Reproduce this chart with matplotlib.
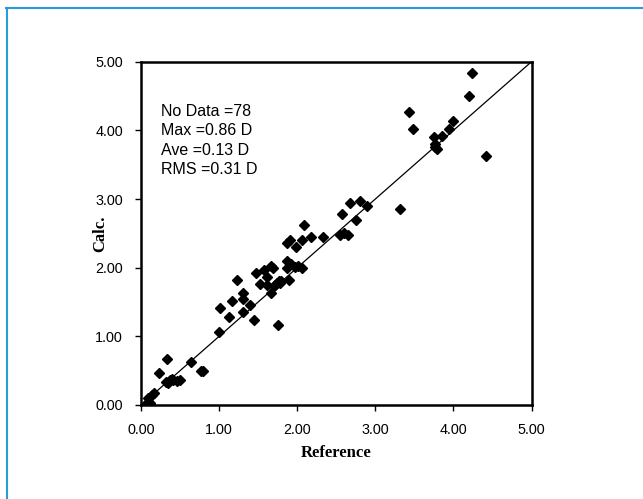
import matplotlib
matplotlib.use("Agg")
import matplotlib.pyplot as plt
from matplotlib.lines import Line2D

# Data
ref = [4.24, 4.20, 3.43, 3.48, 4.00, 3.94, 3.85, 3.75, 3.76, 3.77, 3.79, 4.42,
       3.31, 2.89, 2.80, 2.68, 2.57, 2.75, 2.55, 2.60, 2.65, 2.33, 2.17, 2.06, 2.09, 2.06,
       1.87, 1.98, 1.91, 1.87, 1.97, 1.87, 1.66, 1.69, 1.57, 1.47, 1.61, 1.89, 1.77,
       1.74, 1.72, 1.52, 1.61, 1.66, 1.23, 1.31, 1.30, 1.17, 1.39, 1.30, 1.01, 1.13,
       1.45, 1.75, 1.00, 1.78, 1.70,
       0.33, 0.64, 0.23, 0.77, 0.80, 0.32, 0.37, 0.41, 0.50, 0.46, 0.35, 0.16, 0.14,
       0.09, 0.07, 0.12, 0.40, 1.92, 2.01, 1.79, 0.11]
calc = [4.84, 4.50, 4.26, 4.02, 4.14, 4.02, 3.92, 3.91, 3.80, 3.76, 3.73, 3.63,
        2.85, 2.90, 2.97, 2.94, 2.78, 2.69, 2.48, 2.50, 2.48, 2.44, 2.44, 2.41, 2.62, 2.00,
        2.36, 2.30, 2.40, 2.10, 2.01, 2.00, 2.02, 1.99, 1.97, 1.92, 1.87, 1.82, 1.80,
        1.77, 1.75, 1.76, 1.75, 1.63, 1.82, 1.63, 1.54, 1.51, 1.46, 1.36, 1.41, 1.28,
        1.24, 1.16, 1.07, 1.78, 1.73,
        0.67, 0.62, 0.46, 0.50, 0.50, 0.33, 0.36, 0.37, 0.37, 0.35, 0.32, 0.17, 0.15,
        0.10, 0.02, 0.01, 0.38, 2.06, 2.03, 1.81, 0.03]

stats_text = ["No Data =78", "Max =0.86 D", "Ave =0.13 D", "RMS =0.31 D"]
ticks = [0, 1, 2, 3, 4, 5]
tick_labels = ["0.00", "1.00", "2.00", "3.00", "4.00", "5.00"]

fig = plt.figure(figsize=(6.43, 4.99), dpi=100)
ax = fig.add_axes([0.2193, 0.1884, 0.6074, 0.688])

ax.plot([0, 5], [0, 5], color="black", lw=0.9, zorder=2)
ax.plot(ref, calc, linestyle="none", marker="D", ms=5.2, color="black", zorder=3)

ax.set_xlim(0, 5)
ax.set_ylim(0, 5)
ax.set_xticks(ticks)
ax.set_yticks(ticks)
ax.set_xticklabels(tick_labels, family="Liberation Sans", fontsize=10.4)
ax.set_yticklabels(tick_labels, family="Liberation Sans", fontsize=10.4)
ax.tick_params(direction="out", length=4, width=1, pad=9, colors="black")
for s in ax.spines.values():
    s.set_linewidth(1.8)
    s.set_color("black")

ax.set_xlabel("Reference", family="Liberation Serif", fontweight="bold", fontsize=12, labelpad=6)
ax.set_ylabel("Calc.", family="Liberation Serif", fontweight="bold", fontsize=12)
ax.yaxis.set_label_coords(-0.084, 0.5)

ax.text(0.05, 0.878, "\n".join(stats_text), transform=ax.transAxes,
        family="Liberation Sans", fontsize=11.5, va="top", ha="left", linespacing=1.38)

# blue frame (top and left)
blue = "#2a9ad8"
fig.add_artist(Line2D([6 / 643, 1.0], [1 - 8 / 499, 1 - 8 / 499], transform=fig.transFigure,
                      color=blue, lw=1.5))
fig.add_artist(Line2D([6.5 / 643, 6.5 / 643], [1 - 8 / 499, 0.0], transform=fig.transFigure,
                      color=blue, lw=1.5))

fig.savefig("out.png", dpi=100)
